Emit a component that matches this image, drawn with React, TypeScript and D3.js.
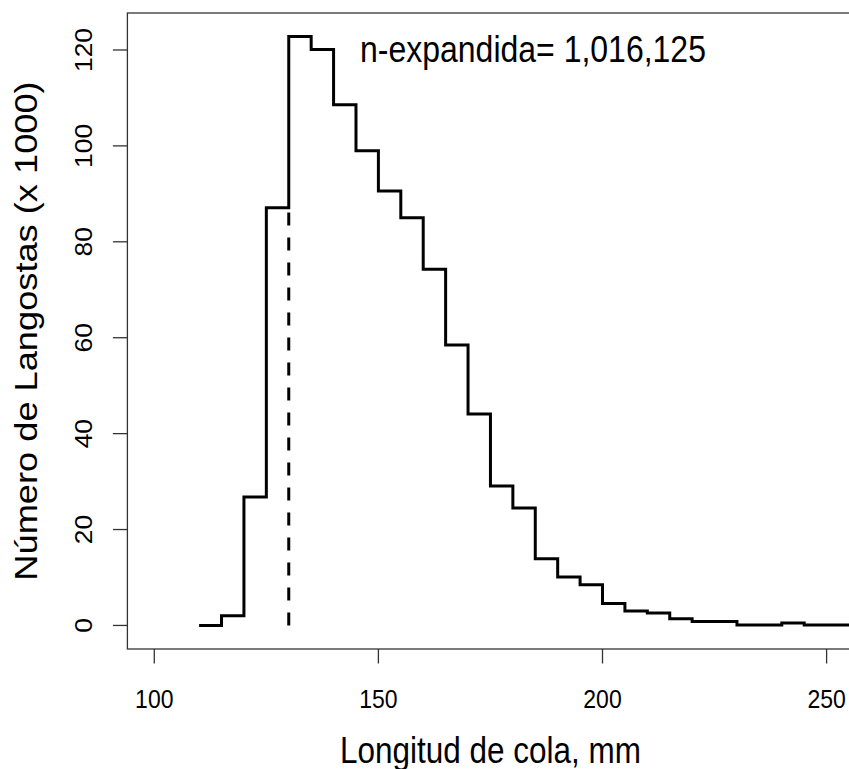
import React from "react";
import * as d3 from "d3";

// Tail length bins (lower edge, mm) and number of lobsters (x 1000)
const lengths = [110, 115, 120, 125, 130, 135, 140, 145, 150, 155, 160, 165, 170, 175, 180, 185, 190, 195, 200, 205, 210, 215, 220, 225, 230, 235, 240, 245, 250, 255];
const counts = [0, 2.0, 26.8, 87.1, 122.8, 120.1, 108.6, 99.0, 90.6, 85.0, 74.3, 58.5, 44.1, 29.1, 24.5, 13.9, 10.1, 8.5, 4.6, 3.0, 2.6, 1.4, 0.8, 0.8, 0.1, 0.1, 0.5, 0.1, 0.1, 0.1];
const binWidth = 5;
const xTicks = [100, 150, 200, 250];
const yTicks = [0, 20, 40, 60, 80, 100, 120];
const xLimits = [100, 250];
const refLength = 130;
const refTop = 87.1;
const annotation = "n-expandida= 1,016,125";
const xTitle = "Longitud de cola, mm";
const yTitle = "Número de Langostas (x 1000)";

const W = 849;
const H = 769;
const plot = { left: 127.4, right: 853.5, top: 13, bottom: 649 };
const stretch = 1.15; // vertical stretch of the reference's glyphs

export default function App() {
  const xPad = (xLimits[1] - xLimits[0]) * 0.04;
  const yMax = d3.max(counts) as number;
  const yPad = yMax * 0.04;
  const x = d3.scaleLinear().domain([xLimits[0] - xPad, xLimits[1] + xPad]).range([plot.left, plot.right]);
  const y = d3.scaleLinear().domain([0 - yPad, yMax + yPad]).range([plot.bottom, plot.top]);

  const pts: [number, number][] = lengths.map((l, i) => [l, counts[i]]);
  pts.push([lengths[lengths.length - 1] + binWidth, counts[counts.length - 1]]);
  const line = d3.line<[number, number]>().x((d) => x(d[0])).y((d) => y(d[1])).curve(d3.curveStepAfter);

  const font = "'Liberation Sans', Arial, sans-serif";
  const tickLen = 14.5;

  return (
    <svg width={W} height={H} style={{ position: "absolute", left: 0, top: 0, background: "#fff" }} fontFamily={font}>
      <defs>
        <clipPath id="plotclip">
          <rect x={plot.left} y={plot.top} width={plot.right - plot.left} height={plot.bottom - plot.top} />
        </clipPath>
      </defs>
      <rect x={0} y={0} width={W} height={H} fill="#fff" />
      <g clipPath="url(#plotclip)">
        <path d={line(pts) || ""} fill="none" stroke="#000" strokeWidth={3} strokeLinejoin="miter" strokeLinecap="butt" />
        <line x1={x(refLength)} x2={x(refLength)} y1={y(0)} y2={y(refTop)} stroke="#000" strokeWidth={3} strokeDasharray="13 12" />
      </g>
      <rect x={plot.left} y={plot.top} width={plot.right - plot.left} height={plot.bottom - plot.top} fill="none" stroke="#333" strokeWidth={1.3} />
      {xTicks.map((t) => (
        <g key={"x" + t}>
          <line x1={x(t)} x2={x(t)} y1={plot.bottom} y2={plot.bottom + tickLen} stroke="#333" strokeWidth={1.3} />
          <text transform={`translate(${x(t)},708) scale(1,${stretch})`} textAnchor="middle" fontSize={23} fill="#000">{t}</text>
        </g>
      ))}
      {yTicks.map((t) => (
        <g key={"y" + t}>
          <line x1={plot.left} x2={plot.left - tickLen} y1={y(t)} y2={y(t)} stroke="#333" strokeWidth={1.3} />
          <text transform={`translate(92,${y(t)}) rotate(-90) scale(${stretch},1)`} textAnchor="middle" fontSize={23} fill="#000">{t}</text>
        </g>
      ))}
      <text transform={`translate(${(plot.left + plot.right) / 2},763) scale(1,${stretch})`} textAnchor="middle" fontSize={31.5} fill="#000">{xTitle}</text>
      <text transform={`translate(37,${(plot.top + plot.bottom) / 2}) rotate(-90) scale(${stretch},1)`} textAnchor="middle" fontSize={31.5} fill="#000">{yTitle}</text>
      <text transform={`translate(360,62) scale(1,${stretch})`} fontSize={32} fill="#000">{annotation}</text>
    </svg>
  );
}
